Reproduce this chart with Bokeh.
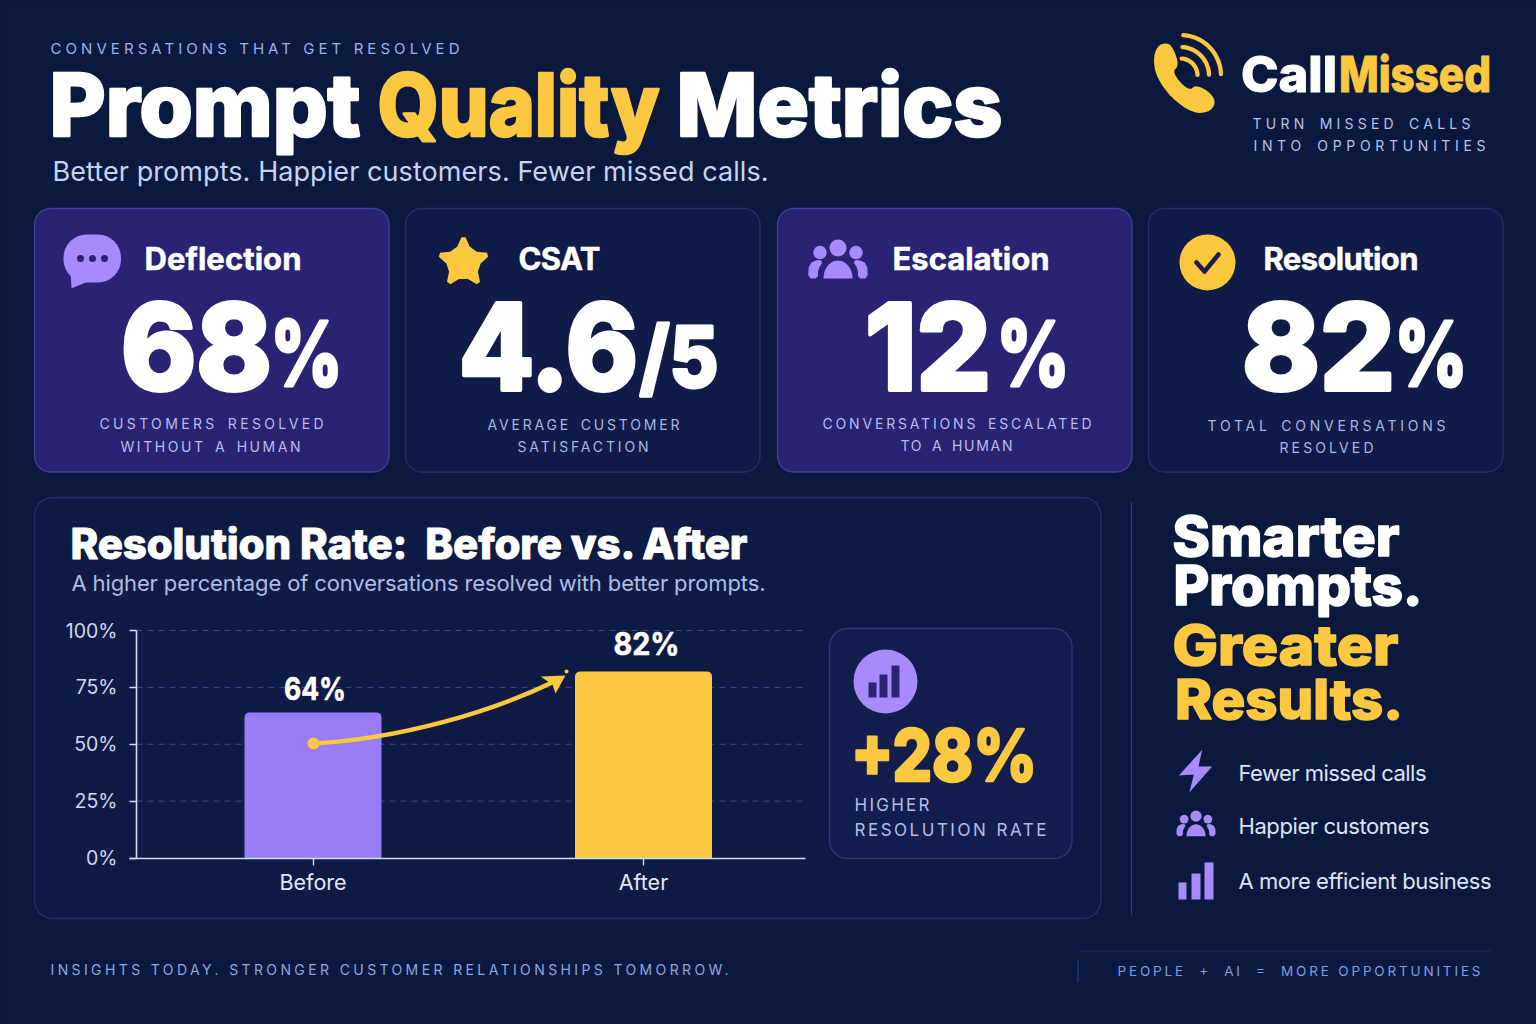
import json
import numpy as np
from bokeh.embed import file_html
from bokeh.resources import INLINE
from bokeh.plotting import figure
from bokeh.models import Range1d, LinearAxis, FixedTicker
from bokeh.core.properties import value

# ---------- data ----------
categories = ["Before", "After"]
resolution_rate = [64, 82]
rate_labels = ["64%", "82%"]
bar_colors = ["#997cf7", "#fdc83f"]
y_ticks = [0, 25, 50, 75, 100]
y_tick_labels = ["0%", "25%", "50%", "75%", "100%"]

kpi_titles = ["Deflection", "CSAT", "Escalation", "Resolution"]
kpi_values = ["68", "4.6", "12", "82"]
kpi_units = ["%", "/5", "%", "%"]
kpi_caption_1 = ["CUSTOMERS RESOLVED", "AVERAGE CUSTOMER", "CONVERSATIONS ESCALATED", "TOTAL CONVERSATIONS"]
kpi_caption_2 = ["WITHOUT A HUMAN", "SATISFACTION", "TO A HUMAN", "RESOLVED"]
bullets = ["Fewer missed calls", "Happier customers", "A more efficient business"]

# ---------- palette ----------
BG = "#0b193f"
WHITE = "#ffffff"
YEL = "#fcc840"
PUR = "#a78bfa"
CARD_P = "#2a2272"
CARD_D = "#101b47"
EDGE_P = "#40409a"
EDGE_D = "#262f68"

W, H = 1536, 1024
# canvas coordinates equal page pixels; the chart has its own scales
p = figure(width=W, height=H, output_backend="svg", toolbar_location=None,
           x_range=Range1d(0, W), y_range=Range1d(H, 0),
           x_axis_location=None, y_axis_location=None, min_border=0,
           background_fill_color=BG, border_fill_color=BG, outline_line_color=None)
p.grid.grid_line_color = None

CAT_C, CAT_S = 312.5, 330.5
Y0, YS = 857.5, 2.275
p.extra_x_ranges = {"cat": Range1d((0 - CAT_C) / CAT_S, (W - CAT_C) / CAT_S)}
p.extra_y_ranges = {"pct": Range1d((Y0 - H) / YS, (Y0 - 0) / YS)}

# ---------- helpers ----------
styles = []
BASE_FIX = 0.367


def code(i):
    s = ""
    i += 1
    while i:
        i, r = divmod(i - 1, 26)
        s = chr(97 + r) + s
    return "txq" + s


def txt(s, x, y, size, color, w=None, weight=400, stroke=0, fit="spacing", font="Inter",
        x_offset=0, y_offset=0, ws=0, **kw):
    c = code(len(styles))
    if w and fit == "spacing" and size < 18:
        w -= 3
    styles.append(dict(c=c, w=w, weight=weight, stroke=stroke, fit=fit, font=font, ws=ws))
    p.text(x=[x], y=[y], text=[s], text_font=value(f"{font}, {c}"),
           text_font_size=value(f"{size}px"),
           text_font_style="bold" if weight >= 600 else "normal",
           text_color=color, text_baseline="alphabetic", text_align="left",
           x_offset=x_offset - (1 if size < 40 else 2.5),
           y_offset=y_offset - BASE_FIX * size, **kw)


def rrect_pts(x0, y0, x1, y1, r):
    xs, ys = [], []
    for cx, cy, a0 in [(x1 - r, y0 + r, -90), (x1 - r, y1 - r, 0), (x0 + r, y1 - r, 90), (x0 + r, y0 + r, 180)]:
        for a in np.radians(np.linspace(a0, a0 + 90, 9)):
            xs.append(cx + r * np.cos(a))
            ys.append(cy + r * np.sin(a))
    return xs, ys


def panel(x0, y0, x1, y1, r, fill, edge):
    xs, ys = rrect_pts(x0, y0, x1, y1, r)
    p.patch(xs, ys, fill_color=fill, line_color=edge, line_width=1.3)


def smooth(pts, n=2):
    pts = np.array(pts, float)
    for _ in range(n):
        nxt = np.roll(pts, -1, axis=0)
        pts = np.column_stack([0.75 * pts + 0.25 * nxt, 0.25 * pts + 0.75 * nxt]).reshape(-1, 2)
    return pts[:, 0].tolist(), pts[:, 1].tolist()


def dot(x, y, r, color):
    p.scatter([x], [y], size=2 * r, fill_color=color, line_color=None)


def people(cx, top, s, color=PUR):
    dot(cx, top + 8.5 * s, 8.5 * s, color)
    for side in (-1, 1):
        dot(cx + side * 18 * s, top + 13 * s, 6.7 * s, color)
        xs, ys = smooth([(cx + side * 30 * s, top + 39 * s), (cx + side * 29 * s, top + 24 * s),
                         (cx + side * 20 * s, top + 20 * s), (cx + side * 15 * s, top + 22 * s),
                         (cx + side * 20 * s, top + 30 * s), (cx + side * 20 * s, top + 39 * s)], 1)
        p.patch(xs, ys, fill_color=color, line_color=None)
    a = np.radians(np.linspace(180, 360, 25))
    p.patch((cx + 14.5 * s * np.cos(a)).tolist() + [cx + 14.5 * s],
            (top + 39 * s + 18 * s * np.sin(a)).tolist() + [top + 39 * s],
            fill_color=color, line_color=None)


def bars_icon(rects, color):
    p.quad(left=[r[0] for r in rects], right=[r[1] for r in rects],
           top=[r[2] for r in rects], bottom=[r[3] for r in rects],
           fill_color=color, line_color=None)


# ---------- header ----------
txt("CONVERSATIONS THAT GET RESOLVED", 51, 54, 15, "#9ab2ea", w=412)
txt("Prompt", 51.5, 135.5, 87, WHITE, w=311, weight=800, stroke=2.6, fit="spacingAndGlyphs")
txt("Quality", 379.5, 135.5, 87, YEL, w=282, weight=800, stroke=2.6, fit="spacingAndGlyphs")
txt("Metrics", 678.5, 135.5, 87, WHITE, w=326, weight=800, stroke=2.6, fit="spacingAndGlyphs")
txt("Better prompts. Happier customers. Fewer missed calls.", 53, 181, 27, "#c6d4f2", w=716)

# logo
px = lambda z: 1130 + z / 3
py = lambda z: 20 + z / 3
phone = [(68, 118), (80, 76), (110, 66), (128, 82), (146, 134), (124, 156), (174, 212), (198, 192),
         (244, 220), (256, 250), (234, 276), (186, 278), (122, 232), (78, 170)]
xs, ys = smooth([(px(a), py(b)) for a, b in phone], 2)
p.patch(xs, ys, fill_color=YEL, line_color=None)
for rad in (17, 28.5, 40.5):
    a = np.radians(np.linspace(-86, -2, 30))
    p.line((1180 + rad * np.cos(a)).tolist(), (75 + rad * np.sin(a)).tolist(),
           line_color=YEL, line_width=4.3, line_cap="round")
txt("Call", 1242, 92, 50, WHITE, w=96, weight=800, stroke=1, fit="spacingAndGlyphs", x_offset=1)
txt("Missed", 1340, 92, 50, YEL, w=152, weight=800, stroke=1, fit="spacingAndGlyphs", x_offset=1)
txt("TURN MISSED CALLS", 1253, 128, 14, "#b6c3ea", w=221, ws=3)
txt("INTO OPPORTUNITIES", 1254, 150, 14, "#b6c3ea", w=235, ws=3)

# ---------- KPI cards ----------
cards = [(34, 388.5, CARD_P, EDGE_P), (405, 759.5, CARD_D, EDGE_D), (777, 1131.5, CARD_P, EDGE_P), (1148, 1502.5, CARD_D, EDGE_D)]
for c in cards:
    panel(c[0], 208, c[1], 471.5, 16, c[2], c[3])

title_pos = [(145, 157), (519, 82), (893, 157), (1264, 155)]
value_pos = [(122, 151), (460, 179), (866, 126), (1243, 153)]
unit_pos = [(271, 72), (640, 79), (997, 73), (1395, 73)]
cap1_pos = [(100, 227, 428), (488, 195, 429), (823, 272, 428), (1208, 241, 430)]
cap2_pos = [(121, 183, 451), (518, 134, 451), (901, 115, 450), (1280, 97, 452)]
for i in range(4):
    cap_col = "#b9bdf0" if i % 2 == 0 else "#aab6e2"
    txt(kpi_titles[i], title_pos[i][0], 269.5, 31, WHITE, w=title_pos[i][1], weight=700, stroke=0.5)
    txt(kpi_values[i], value_pos[i][0] + 1, 390, 119, WHITE, w=value_pos[i][1], weight=800, stroke=4, fit="spacingAndGlyphs")
    txt(kpi_units[i], unit_pos[i][0] + 1.5, 386.5, 90 if i != 1 else 84, WHITE, w=unit_pos[i][1], weight=800, stroke=3, fit="spacingAndGlyphs")
    txt(kpi_caption_1[i], cap1_pos[i][0], cap1_pos[i][2], 14, cap_col, w=cap1_pos[i][1], ws=3)
    txt(kpi_caption_2[i], cap2_pos[i][0], cap2_pos[i][2], 14, cap_col, w=cap2_pos[i][1], ws=3)

# bubble icon
xs, ys = rrect_pts(63, 234, 120.5, 282, 23)
p.patch(xs, ys, fill_color=PUR, line_color=None)
p.patch([70, 71, 92], [272, 288, 279], fill_color=PUR, line_color=None)
p.scatter([80, 92, 104], [258, 258, 258], size=7, fill_color=CARD_P, line_color=None)

# star icon
ang = np.radians(-90 + 36 * np.arange(10))
rad = np.where(np.arange(10) % 2 == 0, 30, 14)
xs, ys = smooth(list(zip(463 + rad * np.cos(ang), 262 + rad * np.sin(ang))), 1)
p.patch(xs, ys, fill_color=YEL, line_color=None)

people(837.5, 239, 1.0)

# check icon
dot(1207, 262, 28, YEL)
p.line([1196, 1204, 1218], [262, 271, 254], line_color="#1a1d4e", line_width=4.5, line_cap="round", line_join="round")

# ---------- chart panel ----------
panel(34, 497, 1100.5, 918, 18, "#0f1b45", EDGE_D)
txt("Resolution Rate:  Before vs. After", 72.5, 558.5, 42, WHITE, w=677, weight=800, stroke=0.9)
txt("A higher percentage of conversations resolved with better prompts.", 72, 591, 22, "#aebde3", w=694)

cat_at = lambda x: (x - CAT_C) / CAT_S
for t in y_ticks[1:]:
    p.line([cat_at(136), cat_at(805)], [t, t], x_range_name="cat", y_range_name="pct",
           line_color="#3a4c88", line_width=1, line_dash=[6, 5])
p.vbar(x=list(range(len(categories))), top=resolution_rate, bottom=0, width=137 / CAT_S,
       fill_color=bar_colors, line_color=None, x_range_name="cat", y_range_name="pct",
       border_radius=(5, 5, 0, 0))

yax = LinearAxis(y_range_name="pct", fixed_location=136, bounds=(0, 100), ticker=FixedTicker(ticks=y_ticks),
                 major_label_overrides=dict(zip(y_ticks, y_tick_labels)),
                 major_tick_in=0, major_tick_out=7, minor_tick_line_color=None,
                 axis_line_color="#d5dbf2", axis_line_width=1.6, major_tick_line_color="#d5dbf2", major_tick_line_width=1.4,
                 major_label_standoff=12, major_label_text_color="#cfd7f0",
                 major_label_text_font="Inter", major_label_text_font_size="19.5px")
p.add_layout(yax, "left")
xax = LinearAxis(x_range_name="cat", fixed_location=Y0, bounds=(cat_at(129), cat_at(805)),
                 ticker=FixedTicker(ticks=list(range(len(categories)))),
                 major_label_overrides=dict(enumerate(categories)),
                 major_tick_in=0, major_tick_out=7, minor_tick_line_color=None,
                 axis_line_color="#d5dbf2", axis_line_width=1.6, major_tick_line_color="#d5dbf2", major_tick_line_width=1.4,
                 major_label_standoff=4, major_label_text_color="#e3e8f8",
                 major_label_text_font="Inter", major_label_text_font_size="21.5px")
p.add_layout(xax, "below")

label_off = [(-28, -13), (-29, -17)]
label_w = [62, 66]
for i, lab in enumerate(rate_labels):
    txt(lab, i, resolution_rate[i], 31, WHITE, w=label_w[i], weight=700, stroke=0.6, fit="spacingAndGlyphs",
        x_range_name="cat", y_range_name="pct", x_offset=label_off[i][0], y_offset=label_off[i][1])

# arrow
p.bezier(x0=[313], y0=[743], x1=[556], y1=[680], cx0=[400], cy0=[738], cx1=[490], cy1=[712],
         line_color=YEL, line_width=4.5)
p.patch([565, 540, 552, 555], [675, 676, 684, 693], fill_color=YEL, line_color=None)
dot(313, 743, 6, YEL)
dot(566, 671, 2, YEL)

# uplift card
panel(829, 628, 1071.5, 858, 18, "#131d4e", "#2f3a78")
dot(885, 681, 32, PUR)
bars_icon([(868, 876, 682, 697), (879, 887, 674, 697), (891, 899, 665, 697)], "#2a2472")
txt("+28%", 853, 780.5, 72, YEL, w=186, weight=800, stroke=2.4, fit="spacingAndGlyphs")
txt("HIGHER", 855, 811, 17, "#b3bee9", w=78)
txt("RESOLUTION RATE", 855, 836, 17, "#b3bee9", w=195, ws=1)

# ---------- right column ----------
p.line([1131, 1131], [501, 915], line_color="#2c3670", line_width=1.3)
txt("Smarter", 1174.5, 556, 55, WHITE, w=227, weight=800, stroke=1.5, fit="spacingAndGlyphs")
txt("Prompts.", 1175.5, 605, 55, WHITE, w=249, weight=800, stroke=1.5, fit="spacingAndGlyphs")
txt("Greater", 1174.5, 665, 55, YEL, w=226, weight=800, stroke=1.5, fit="spacingAndGlyphs")
txt("Results.", 1177, 719, 55, YEL, w=228, weight=800, stroke=1.5, fit="spacingAndGlyphs")

zx = lambda z: 1130 + z / 3
zy = lambda z: 730 + z / 3
bolt = [(215, 58), (145, 135), (190, 132), (177, 185), (245, 108), (204, 108)]
p.patch([zx(a) for a, _ in bolt], [zy(b) for _, b in bolt], fill_color=PUR, line_color=None)
people(1195.5, 810, 0.66)
bars_icon([(1178, 1186, 882, 899), (1191, 1200, 873, 899), (1204, 1213, 862, 899)], PUR)
bullet_pos = [(188, 781), (191, 834), (253, 889)]
for b, (w, y) in zip(bullets, bullet_pos):
    txt(b, 1239, y, 22, "#dce4f8", w=w)

# ---------- footer ----------
txt("INSIGHTS TODAY. STRONGER CUSTOMER RELATIONSHIPS TOMORROW.", 51, 974, 14, "#8fa7de", w=681)
p.line([1078, 1490], [950.5, 950.5], line_color="#1f2b60", line_width=1)
p.line([1077.5, 1077.5], [960, 982], line_color="#2f3b78", line_width=1.2)
txt("PEOPLE  +  AI  =  MORE OPPORTUNITIES", 1118, 975.5, 13.5, "#7f9de2", w=366)

# ---------- page ----------
js = """
<script>
(function(){
  const T = %s;
  function walk(root){
    root.querySelectorAll('*').forEach(function(el){
      if(el.shadowRoot) walk(el.shadowRoot);
      if(el.tagName.toLowerCase()!=='text') return;
      const f = el.getAttribute('font-family')||'';
      const m = f.match(/txq[a-z]+/);
      if(!m || !T[m[0]]) return;
      const s = T[m[0]];
      el.setAttribute('font-family', s.font);
      el.setAttribute('font-weight', s.weight);
      el.style.whiteSpace = 'pre';
      if(s.ws) el.style.wordSpacing = s.ws + 'px';
      if(s.w){ el.setAttribute('textLength', s.w); el.setAttribute('lengthAdjust', s.fit); }
      if(s.stroke){
        el.setAttribute('stroke', el.getAttribute('fill'));
        el.setAttribute('stroke-width', s.stroke);
        el.setAttribute('stroke-linejoin', 'round');
      }
    });
  }
  let n = 0;
  const t = setInterval(function(){ walk(document); if(++n>60) clearInterval(t); }, 50);
})();
</script>
""" % json.dumps({s["c"]: s for s in styles})

html = file_html(p, INLINE)
html = html.replace("</head>", "<style>html,body{background:%s;overflow:hidden;margin:0}</style></head>" % BG, 1)
html = html.replace("</body>", js + "</body>", 1)
open("out.html", "w").write(html)
